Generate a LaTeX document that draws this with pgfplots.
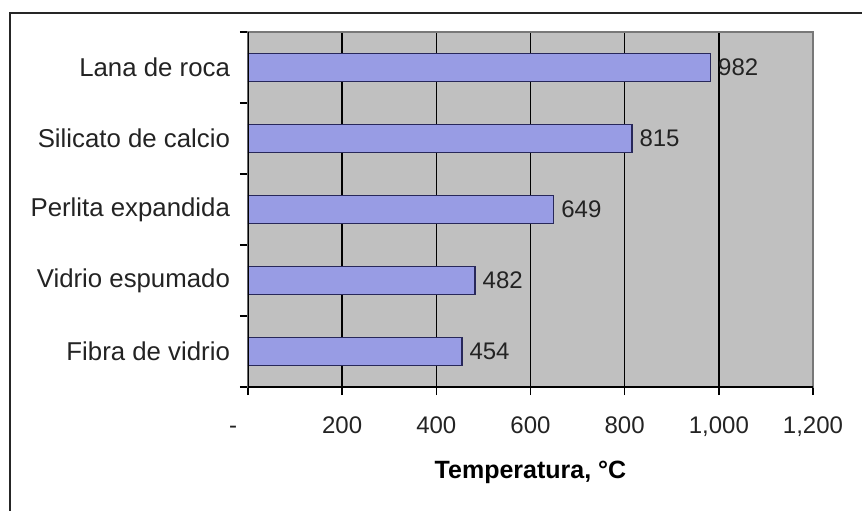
\documentclass[border=0pt]{standalone}
\usepackage{pgfplots}
\pgfplotsset{compat=1.18}
\usepackage{fontspec}
\setmainfont{Liberation Sans}
\definecolor{barfill}{RGB}{152,156,228}
\definecolor{baredge}{RGB}{40,40,90}
\definecolor{plotbg}{RGB}{192,192,192}
\definecolor{bordergray}{RGB}{120,120,120}
\definecolor{txt}{RGB}{35,35,35}

\begin{document}
\begin{tikzpicture}
\useasboundingbox (-124pt,-61.5pt) rectangle (307pt,193.5pt);
% outer chart frame (right and bottom edges fall outside the picture)
\draw[line width=1pt, black!85] (-119pt,-80pt) -- (-119pt,187pt) -- (330pt,187pt);
\begin{axis}[
    at={(0pt,0pt)}, anchor=south west,
    scale only axis,
    width=282.5pt, height=177.5pt,
    xbar, bar width=14pt, bar shift=0pt,
    xmin=0, xmax=1200,
    ymin=0.5, ymax=5.5,
    xtick={0,200,...,1200},
    xticklabels={{\makebox[0pt][r]{-\hspace{5.5pt}}},200,400,600,800,{1,000},{1,200}},
    ytick={0.5,1.5,...,5.5},
    yticklabels={,,,,,},
    extra y ticks={1,2,3,4,5},
    extra y tick labels={Fibra de vidrio,Vidrio espumado,Perlita expandida,Silicato de calcio,Lana de roca},
    extra y tick style={major tick length=0pt},
    xtick pos=bottom, ytick pos=left,
    tick align=outside,
    major tick length=4pt,
    tick style={black, line width=0.75pt},
    xmajorgrids,
    major grid style={black, line width=0.8pt},
    axis background/.style={fill=plotbg},
    axis line style={draw=bordergray, line width=0.6pt},
    tick label style={text=txt},
    xticklabel style={font=\fontsize{12}{14}\selectfont, anchor=base, yshift=-19pt},
    yticklabel style={font=\fontsize{12.9}{15}\selectfont, anchor=east, xshift=-5.5pt},
    xlabel={\bfseries Temperatura, °C},
    xlabel style={font=\fontsize{12.5}{15}\selectfont, text=black,
        at={(rel axis cs:0.5,0)}, anchor=base, yshift=-45.5pt},
    point meta=x,
    nodes near coords,
    nodes near coords align={horizontal},
    every node near coord/.append style={anchor=west, inner sep=0pt, xshift=3.5pt,
        font=\fontsize{12}{14}\selectfont, text=txt},
    /pgf/number format/assume math mode=true,
]
\addplot[fill=barfill, draw=baredge, line width=0.8pt] coordinates {
    (454,1) (482,2) (649,3) (815,4) (982,5)
};
\draw[bordergray, line width=0.8pt] (rel axis cs:1,0) -- (rel axis cs:1,1);
\draw[black, line width=0.9pt] (rel axis cs:0,1) -- (rel axis cs:0,0) -- (rel axis cs:1,0);
\end{axis}
\end{tikzpicture}
\end{document}
